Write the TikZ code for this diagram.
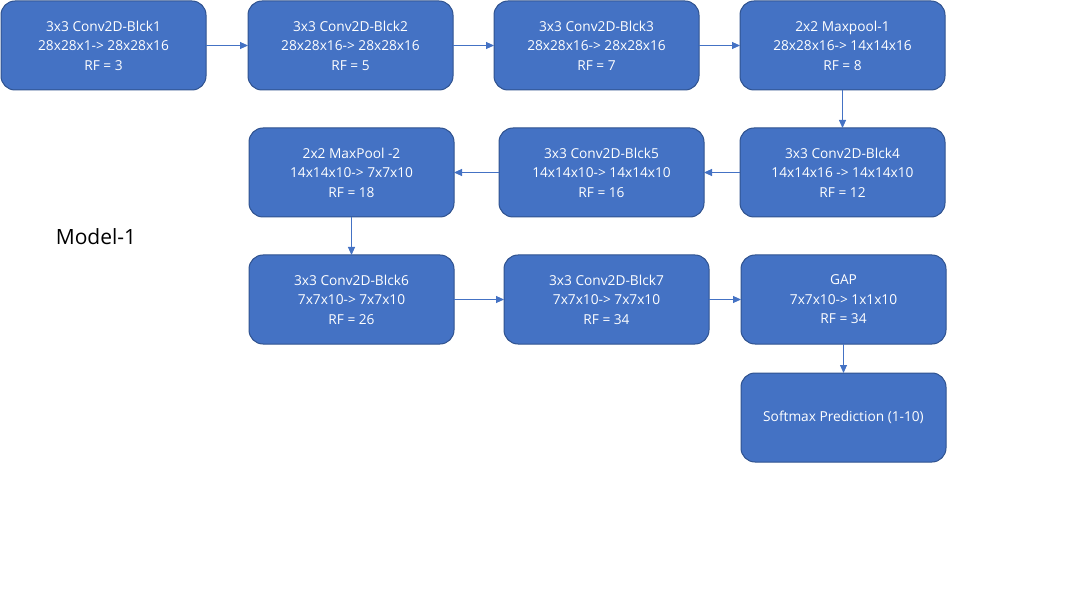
\documentclass[tikz,border=0pt]{standalone}
\usepackage{fontspec}
\setmainfont{Open Sans}
\usetikzlibrary{positioning,arrows.meta}
\definecolor{boxfill}{HTML}{4472C4}
\definecolor{boxline}{HTML}{2F528F}
\tikzset{%
	block/.style    	= {draw=boxline, line width=1pt, fill=boxfill, rectangle, rounded corners=14pt, minimum height = 89pt, minimum width = 205pt, inner sep=0pt, outer sep=0pt, text=white, align=center, font=\fontsize{13.7}{19.5}\selectfont},
	link/.style     	= {draw=boxfill, line width=0.9pt, -{Triangle[length=8pt,width=7pt]}},
	title/.style    	= {font=\fontsize{21}{25}\selectfont} % Model name
}

\begin{document}
\begin{tikzpicture}[x=1pt, y=-1pt]
	\useasboundingbox (0,0) rectangle (1084,612);
	% Drawing the blocks
	\node [block] at (103.5,45.5) (b1) {3x3 Conv2D-Blck1\\28x28x1-> 28x28x16\\RF = 3};
	\node [block, right=42pt of b1] (b2) {3x3 Conv2D-Blck2\\28x28x16-> 28x28x16\\RF = 5};
	\node [block, right=41pt of b2] (b3) {3x3 Conv2D-Blck3\\28x28x16-> 28x28x16\\RF = 7};
	\node [block, right=41pt of b3] (mp1) {2x2 Maxpool-1\\28x28x16-> 14x14x16\\RF = 8};
	\node [block, below=38pt of mp1] (b4) {3x3 Conv2D-Blck4\\14x14x16 -> 14x14x10\\RF = 12};
	\node [block, left=36pt of b4] (b5) {3x3 Conv2D-Blck5\\14x14x10-> 14x14x10\\RF = 16};
	\node [block, left=45pt of b5] (mp2) {2x2 MaxPool -2\\14x14x10-> 7x7x10\\RF = 18};
	\node [block, below=38pt of mp2] (b6) {3x3 Conv2D-Blck6\\7x7x10-> 7x7x10\\RF = 26};
	\node [block, right=50pt of b6] (b7) {3x3 Conv2D-Blck7\\7x7x10-> 7x7x10\\RF = 34};
	\node [block, right=32pt of b7] (gap) {GAP\\7x7x10-> 1x1x10\\RF = 34};
	\node [block, below=29pt of gap] (soft) {Softmax Prediction (1-10)};
	\node [title] at (96,237) (model) {Model-1};

	% Drawing the arrows
	\draw[link] (b1) -- (b2);
	\draw[link] (b2) -- (b3);
	\draw[link] (b3) -- (mp1);
	\draw[link] (mp1) -- (b4);
	\draw[link] (b4) -- (b5);
	\draw[link] (b5) -- (mp2);
	\draw[link] (mp2) -- (b6);
	\draw[link] (b6) -- (b7);
	\draw[link] (b7) -- (gap);
	\draw[link] (gap) -- (soft);
\end{tikzpicture}
\end{document}
